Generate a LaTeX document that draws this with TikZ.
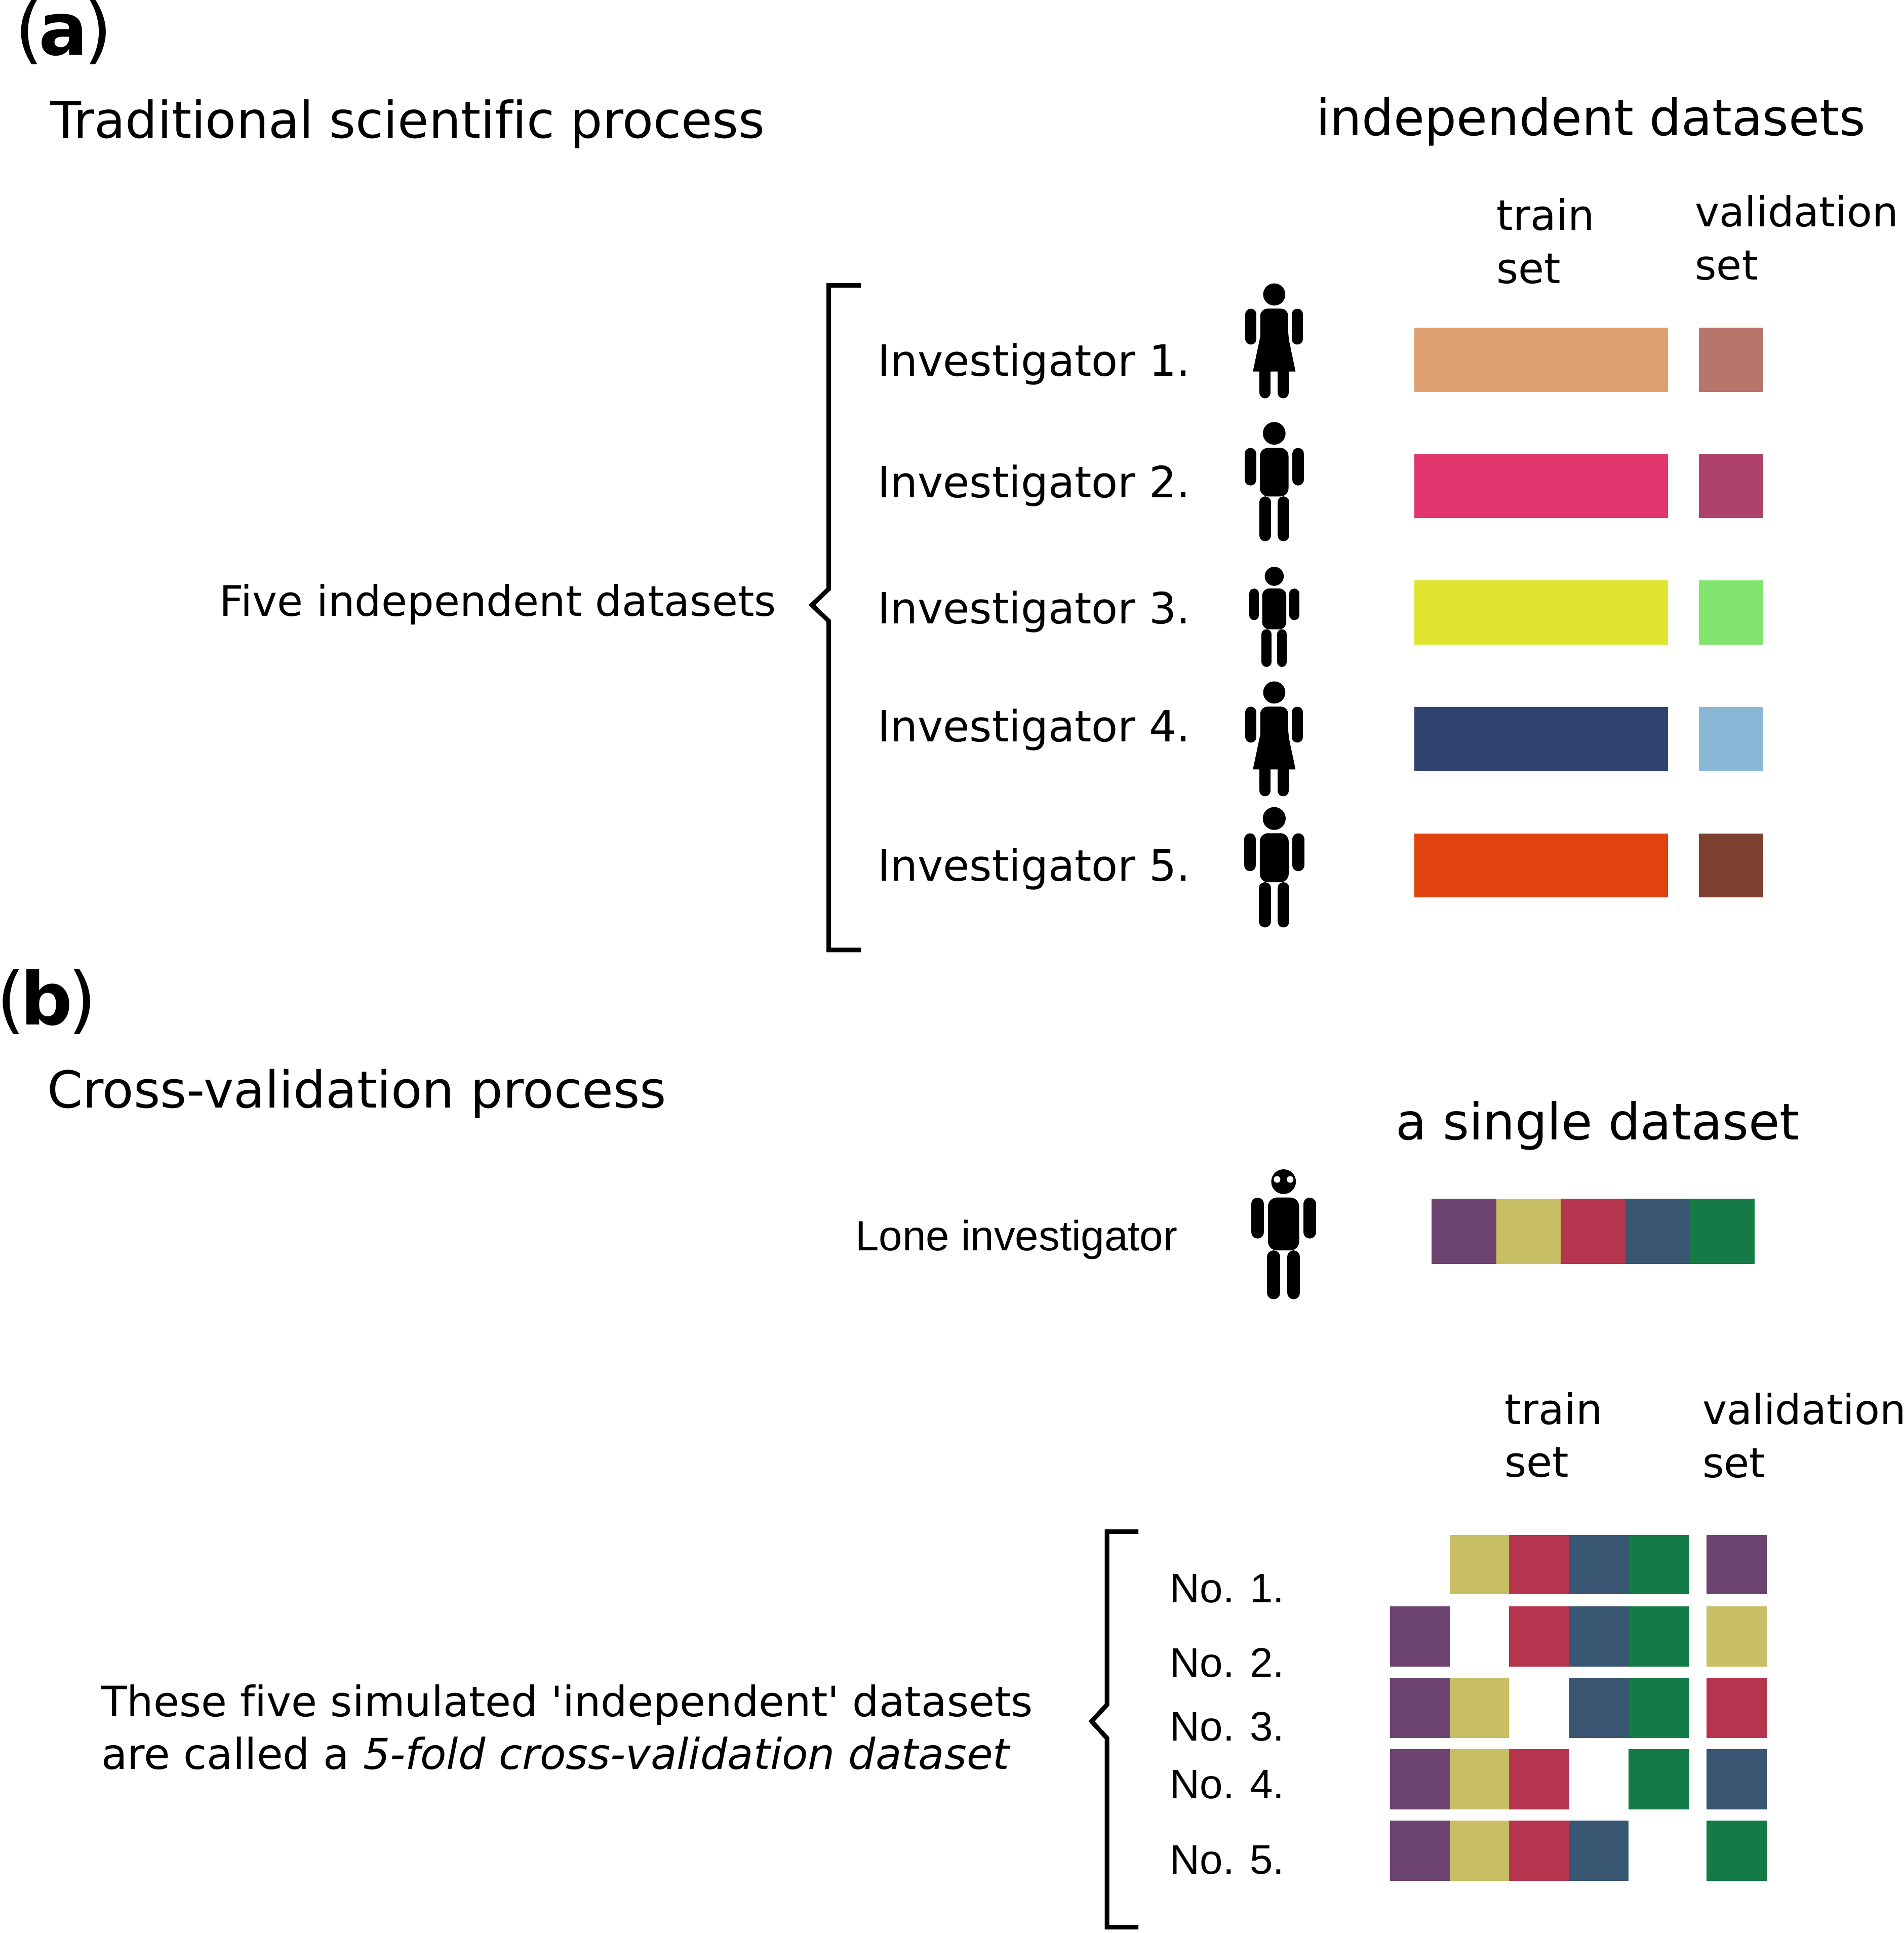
\documentclass[tikz,border=0pt]{standalone}
\usepackage{fontspec}
\setmainfont[Ligatures=NoCommon]{DejaVu Sans}
\newfontfamily\arialfont{Liberation Sans}
\definecolor{tan1}{HTML}{DFA070}
\definecolor{tan2}{HTML}{B8756C}
\definecolor{pink1}{HTML}{E2366F}
\definecolor{pink2}{HTML}{AD436C}
\definecolor{yel1}{HTML}{E0E62F}
\definecolor{yel2}{HTML}{80E46F}
\definecolor{navy1}{HTML}{31446F}
\definecolor{navy2}{HTML}{8AB7D6}
\definecolor{ora1}{HTML}{E1430F}
\definecolor{ora2}{HTML}{7D402E}
\definecolor{foldA}{HTML}{6D4470}
\definecolor{foldB}{HTML}{C8BE64}
\definecolor{foldC}{HTML}{B6354E}
\definecolor{foldD}{HTML}{385572}
\definecolor{foldE}{HTML}{147B47}
\tikzset{
  panel/.style={anchor=base west,inner sep=0pt,font=\fontsize{41}{48}\selectfont},
  heading/.style={anchor=base west,inner sep=0pt,font=\fontsize{#1}{34}\selectfont},
  body/.style={anchor=base west,inner sep=0pt,font=\fontsize{#1}{29}\selectfont},
  body/.default=24,
  arial/.style={anchor=base west,inner sep=0pt,font=\arialfont\fontsize{#1}{29}\selectfont},
  bracket/.style={line width=2.56pt,miter limit=10},
}
% #1 x of the head, #2 top of the head, #3 size
\newcommand{\drawman}[3]{%
\begin{scope}[shift={(#1,#2)},scale=#3]
\fill (0,9.2) circle (9.2);
\fill[rounded corners=#3*4.6pt] (-11.6,21) rectangle (11.6,60.4);
\draw[line cap=round,line width=#3*6.57pt] (-19.4,25.8) -- (-19.4,46.8);
\draw[line cap=round,line width=#3*6.57pt] (19.4,25.8) -- (19.4,46.8);
\draw[line cap=round,line width=#3*6.57pt] (-7.45,65.1) -- (-7.45,92);
\draw[line cap=round,line width=#3*6.57pt] (7.45,65.1) -- (7.45,92);
\end{scope}}
\newcommand{\drawwoman}[2]{%
\begin{scope}[shift={(#1,#2)}]
\fill (0,9) circle (9);
\fill[rounded corners=4pt] (-11.3,43) -- (-11.3,20.5) -- (11.3,20.5) -- (11.3,43) [sharp corners] -- (17.3,71.5) -- (-17.3,71.5) -- cycle;
\draw[line cap=round,line width=6.2pt] (-18.9,25) -- (-18.9,45.2);
\draw[line cap=round,line width=6.2pt] (18.9,25) -- (18.9,45.2);
\draw[line cap=round,line width=6.2pt] (-7.4,70) -- (-7.4,88.8);
\draw[line cap=round,line width=6.2pt] (7.4,70) -- (7.4,88.8);
\end{scope}}
\begin{document}
\begin{tikzpicture}[x=0.02433cm,y=-0.02433cm]
\useasboundingbox (0,0) rectangle (1545,1568.8);
% part (a)
\node[panel] (parta) at (12,44.5) {(\kern-2.6pt\textbf{a}\kern-2.6pt)};
\node[heading=28.4] (tradtitle) at (40.5,112) {Traditional scientific process};
\node[heading=28.2] (indtitle) at (1068,110) {independent datasets};
\node[body=23.6] (trainA) at (1214.5,187) {train};
\node[body=23.6] (setA) at (1214.5,230) {set};
\node[body=23.2] (validA) at (1375.5,184) {validation};
\node[body=23.2] (setB) at (1375.5,227) {set};
\node[body=23.6] (five) at (178,500) {Five independent datasets};
\node[body=24.2] (inv1) at (712,305) {Investigator 1.};
\node[body=24.2] (inv2) at (712,404) {Investigator 2.};
\node[body=24.2] (inv3) at (712,506) {Investigator 3.};
\node[body=24.2] (inv4) at (712,602) {Investigator 4.};
\node[body=24.2] (inv5) at (712,715) {Investigator 5.};
\draw[bracket] (698.7,231.6) -- (672.6,231.6) -- (672.6,478) -- (659,491) -- (672.6,504) -- (672.6,771) -- (698.7,771);
\drawwoman{1034.2}{230}
\drawman{1034.2}{342.5}{1}
\drawman{1034.2}{460}{0.84}
\drawwoman{1034.2}{553}
\drawman{1034.2}{655}{1.01}
\fill[tan1] (1148,266) rectangle (1354,318);
\fill[tan2] (1379,266) rectangle (1431,318);
\fill[pink1] (1148,368.7) rectangle (1354,420.5);
\fill[pink2] (1379,368.7) rectangle (1431,420.5);
\fill[yel1] (1148,471) rectangle (1354,523);
\fill[yel2] (1379,471) rectangle (1431,523);
\fill[navy1] (1148,573.8) rectangle (1354,625.6);
\fill[navy2] (1379,573.8) rectangle (1431,625.6);
\fill[ora1] (1148,676.5) rectangle (1354,728.3);
\fill[ora2] (1379,676.5) rectangle (1431,728.3);
% part (b)
\node[panel] (partb) at (-3,831.5) {(\kern-2.6pt\textbf{b}\kern-2.6pt)};
\node[heading=28.6] (cvtitle) at (38,899) {Cross-validation process};
\node[heading=28.4] (singletitle) at (1132.5,925) {a single dataset};
\node[arial=23.75] (lone) at (694,1015) {Lone investigator};
\drawman{1041.8}{949}{1.09}
\fill[white] (1036.5,957.2) circle (2.7);
\fill[white] (1047.1,957.2) circle (2.7);
\fill[foldA] (1162,973) rectangle (1214.4,1026);
\fill[foldB] (1214.4,973) rectangle (1266.8,1026);
\fill[foldC] (1266.8,973) rectangle (1319.2,1026);
\fill[foldD] (1319.2,973) rectangle (1371.6,1026);
\fill[foldE] (1371.6,973) rectangle (1424,1026);
\node[body=23.6] (trainB) at (1221,1156) {train};
\node[body=23.6] (setC) at (1221,1198.5) {set};
\node[body=23.2] (validB) at (1381.5,1156) {validation};
\node[body=23.2] (setD) at (1381.5,1199) {set};
\node[body=23.55] (these) at (82,1393) {These five simulated \textquotesingle independent\textquotesingle{} datasets};
\node[body=23.9] (called) at (82,1436) {are called a \textit{5-fold cross-validation dataset}};
\draw[bracket] (924,1243) -- (898.5,1243) -- (898.5,1383.5) -- (886,1397) -- (898.5,1410.7) -- (898.5,1564) -- (924,1564);
\node[arial=23.2] (no1) at (949.5,1300.6) {No. 1.};
\node[arial=23.2] (no2) at (949.5,1361) {No. 2.};
\node[arial=23.2] (no3) at (949.5,1413) {No. 3.};
\node[arial=23.2] (no4) at (949.5,1459.6) {No. 4.};
\node[arial=23.2] (no5) at (949.5,1521) {No. 5.};
% folds
\fill[foldB] (1176.8,1245.7) rectangle (1224.8,1294);
\fill[foldC] (1224.8,1245.7) rectangle (1273.5,1294);
\fill[foldD] (1273.5,1245.7) rectangle (1321.6,1294);
\fill[foldE] (1321.6,1245.7) rectangle (1370.6,1294);
\fill[foldA] (1385,1245.7) rectangle (1434,1294);
\fill[foldA] (1128,1303.7) rectangle (1176.8,1352.6);
\fill[foldC] (1224.8,1303.7) rectangle (1273.5,1352.6);
\fill[foldD] (1273.5,1303.7) rectangle (1321.6,1352.6);
\fill[foldE] (1321.6,1303.7) rectangle (1370.6,1352.6);
\fill[foldB] (1385,1303.7) rectangle (1434,1352.6);
\fill[foldA] (1128,1361.7) rectangle (1176.8,1410.6);
\fill[foldB] (1176.8,1361.7) rectangle (1224.8,1410.6);
\fill[foldD] (1273.5,1361.7) rectangle (1321.6,1410.6);
\fill[foldE] (1321.6,1361.7) rectangle (1370.6,1410.6);
\fill[foldC] (1385,1361.7) rectangle (1434,1410.6);
\fill[foldA] (1128,1419.6) rectangle (1176.8,1468.6);
\fill[foldB] (1176.8,1419.6) rectangle (1224.8,1468.6);
\fill[foldC] (1224.8,1419.6) rectangle (1273.5,1468.6);
\fill[foldE] (1321.6,1419.6) rectangle (1370.6,1468.6);
\fill[foldD] (1385,1419.6) rectangle (1434,1468.6);
\fill[foldA] (1128,1477.6) rectangle (1176.8,1526.5);
\fill[foldB] (1176.8,1477.6) rectangle (1224.8,1526.5);
\fill[foldC] (1224.8,1477.6) rectangle (1273.5,1526.5);
\fill[foldD] (1273.5,1477.6) rectangle (1321.6,1526.5);
\fill[foldE] (1385,1477.6) rectangle (1434,1526.5);
\end{tikzpicture}
\end{document}
